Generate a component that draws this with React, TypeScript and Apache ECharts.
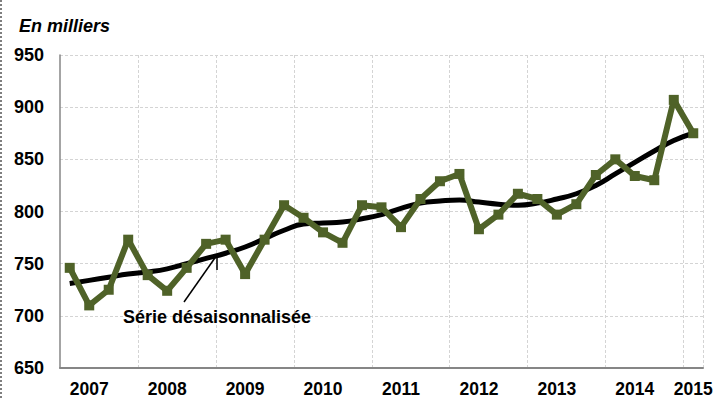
import React, { useEffect, useRef } from "react";
import * as echarts from "echarts";

const categories = [
  "2007 T1", "2007 T2", "2007 T3", "2007 T4",
  "2008 T1", "2008 T2", "2008 T3", "2008 T4",
  "2009 T1", "2009 T2", "2009 T3", "2009 T4",
  "2010 T1", "2010 T2", "2010 T3", "2010 T4",
  "2011 T1", "2011 T2", "2011 T3", "2011 T4",
  "2012 T1", "2012 T2", "2012 T3", "2012 T4",
  "2013 T1", "2013 T2", "2013 T3", "2013 T4",
  "2014 T1", "2014 T2", "2014 T3", "2014 T4",
  "2015 T1",
];

const serieBrute = [
  746, 710, 725, 773,
  739, 724, 746, 769,
  773, 740, 773, 806,
  794, 780, 770, 806,
  804, 785, 812, 829,
  836, 783, 797, 817,
  812, 797, 807, 835,
  850, 834, 830, 907,
  875,
];

const serieCvs = [
  731, 734, 737, 740,
  742, 745, 750, 755,
  760, 766, 774, 782,
  788, 789, 790, 793,
  797, 803, 808, 810,
  811, 809, 807, 806,
  808, 812, 817, 825,
  836, 847, 858, 868,
  875,
];

const yMin = 650;
const yMax = 950;
const yStep = 50;

const FONT = "'Liberation Sans', Arial, sans-serif";

export default function App() {
  const ref = useRef<HTMLDivElement>(null);

  useEffect(() => {
    if (!ref.current) return;
    const chart = echarts.init(ref.current, null, { renderer: "svg" });
    const lastIdx = categories.length - 1;

    const tip = [217, 255];
    const tail = [184, 302];
    const barb = 15;

    chart.setOption({
      animation: false,
      backgroundColor: "#ffffff",
      grid: {
        left: 60,
        right: 12,
        top: 55,
        bottom: 32,
        containLabel: false,
        outerBoundsMode: "none",
      },
      xAxis: {
        type: "category",
        data: categories,
        boundaryGap: true,
        axisLine: { show: true, lineStyle: { color: "#868686", width: 2 } },
        axisTick: { show: false },
        axisLabel: {
          interval: (i: number) => i % 4 === 1 || i === lastIdx,
          formatter: (v: string) => v.slice(0, 4),
          fontFamily: FONT,
          fontWeight: "bold",
          fontSize: 17.5,
          lineHeight: 14,
          color: "#000",
          margin: 14,
        },
        splitLine: {
          show: true,
          interval: (i: number) => i % 4 === 0 && i > 0,
          lineStyle: { color: "#d4d4d4", type: [3, 2], width: 1 },
        },
      },
      yAxis: {
        type: "value",
        min: yMin,
        max: yMax,
        interval: yStep,
        axisLine: { show: true, lineStyle: { color: "#868686", width: 1.5 } },
        axisTick: { show: false },
        axisLabel: {
          fontFamily: FONT,
          fontWeight: "bold",
          fontSize: 18,
          color: "#000",
          margin: 16,
        },
        splitLine: {
          show: true,
          lineStyle: { color: "#d4d4d4", type: [3, 2], width: 1 },
        },
      },
      series: [
        {
          name: "Série désaisonnalisée",
          type: "line",
          data: serieCvs,
          smooth: true,
          showSymbol: false,
          symbol: "none",
          lineStyle: { color: "#000000", width: 5 },
          z: 2,
        },
        {
          name: "Série brute",
          type: "line",
          data: serieBrute,
          smooth: false,
          symbol: "rect",
          symbolSize: 10,
          showSymbol: true,
          itemStyle: { color: "#4f6228" },
          lineStyle: { color: "#4f6228", width: 6 },
          z: 3,
        },
      ],
      graphic: [
        {
          type: "line",
          shape: { x1: 1, y1: 0, x2: 1, y2: 400 },
          style: { stroke: "#555", lineWidth: 1.5, lineDash: [2, 2] },
          z: 10,
        },
        {
          type: "text",
          left: 19,
          top: 17,
          style: {
            text: "En milliers",
            font: `italic bold 18px ${FONT}`,
            fill: "#000",
          },
        },
        {
          type: "text",
          left: 123,
          top: 308,
          style: {
            text: "Série désaisonnalisée",
            font: `bold 18px ${FONT}`,
            fill: "#000",
          },
          z: 10,
        },
        {
          type: "line",
          shape: { x1: tail[0], y1: tail[1], x2: tip[0], y2: tip[1] },
          style: { stroke: "#000", lineWidth: 1.5 },
          z: 10,
        },
        {
          type: "polyline",
          shape: {
            points: [
              [tip[0] - 0.941 * barb, tip[1] + 0.341 * barb],
              [tip[0], tip[1]],
              [tip[0], tip[1] + barb],
            ],
          },
          style: { stroke: "#000", lineWidth: 1.5, fill: "none" },
          z: 10,
        },
      ],
    });

    return () => chart.dispose();
  }, []);

  return (
    <div
      ref={ref}
      style={{ position: "absolute", left: 0, top: 0, width: 715, height: 400 }}
    />
  );
}
